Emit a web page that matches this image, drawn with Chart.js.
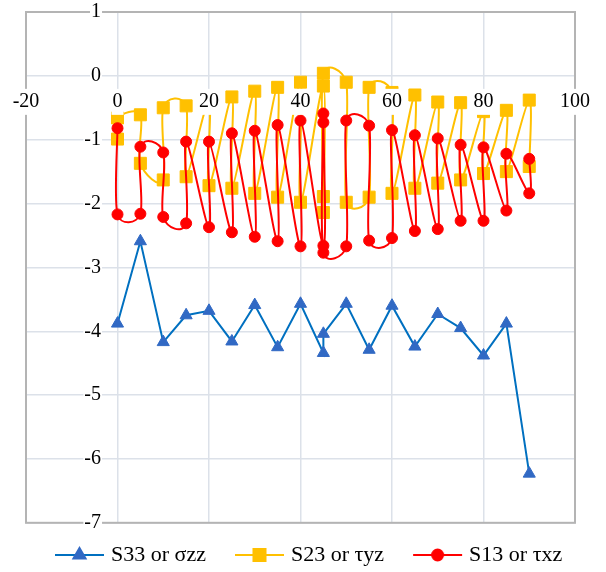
<!DOCTYPE html>
<html>
<head>
<meta charset="utf-8">
<script src="https://cdn.jsdelivr.net/npm/chart.js@4/dist/chart.umd.min.js"></script>
<style>
  html, body { margin: 0; padding: 0; background: #ffffff; }
  canvas { display: block; }
</style>
</head>
<body>
<canvas id="chart" width="606" height="572"></canvas>
<script>
// Stress components through the laminate (ply angle on x, stress on y)
const seriesNames = ['S33 or σzz', 'S23 or τyz', 'S13 or τxz'];

const xTickValues = [-20, 0, 20, 40, 60, 80, 100];
const yTickValues = [1, 0, -1, -2, -3, -4, -5, -6, -7];

// S33 / σzz
const s33X = [0, 5, 10, 15, 20, 25, 30, 35, 40, 45, 45, 50, 55, 60, 65, 70, 75, 80, 85, 90];
const s33Y = [-3.88, -2.59, -4.17, -3.75, -3.68, -4.16, -3.59, -4.25, -3.57, -4.34,
              -4.04, -3.57, -4.29, -3.60, -4.24, -3.73, -3.95, -4.38, -3.88, -6.23];

// S23 / τyz (two values per angle, traversed in path order)
const s23X = [0, 0, 5, 5, 10, 10, 15, 15, 20, 20, 25, 25, 30, 30, 35, 35, 40, 40, 45, 45,
              45, 45, 50, 50, 55, 55, 60, 60, 65, 65, 70, 70, 75, 75, 80, 80, 85, 85, 90, 90];
const s23Y = [-0.99, -0.66, -0.61, -1.37, -1.63, -0.50, -0.47, -1.58, -0.40, -1.72,
              -0.33, -1.76, -0.24, -1.84, -0.18, -1.90, -0.10, -1.98, -0.16, -2.14,
              -1.89, 0.04, -0.10, -1.98, -1.90, -0.18, -0.26, -1.84, -0.30, -1.76,
              -0.41, -1.68, -0.42, -1.63, -0.56, -1.53, -0.54, -1.50, -0.38, -1.42];

// S13 / τxz (two values per angle, traversed in path order)
const s13X = [0, 0, 5, 5, 10, 10, 15, 15, 20, 20, 25, 25, 30, 30, 35, 35, 40, 40, 45, 45,
              45, 45, 50, 50, 55, 55, 60, 60, 65, 65, 70, 70, 75, 75, 80, 80, 85, 85, 90, 90];
const s13Y = [-0.82, -2.17, -2.16, -1.11, -1.20, -2.21, -2.31, -1.03, -2.37, -1.03,
              -2.45, -0.90, -2.52, -0.86, -2.59, -0.77, -2.67, -0.70, -2.66, -0.73,
              -0.59, -2.77, -2.67, -0.70, -0.78, -2.58, -2.54, -0.85, -2.43, -0.93,
              -2.40, -0.98, -2.27, -1.08, -2.27, -1.12, -2.11, -1.22, -1.84, -1.30];

const toPoints = (xs, ys) => xs.map((x, i) => ({ x: x, y: ys[i] }));

const FONT = '"Liberation Serif", "Times New Roman", serif';

const styles = [
  { line: '#0070C0', fill: '#3169C4', shape: 'triangle', radius: 7, smooth: 0 },
  { line: '#FFC000', fill: '#FFC000', shape: 'rect', radius: 8.5, smooth: 1 / 6 },
  { line: '#FF0000', fill: '#FF0000', shape: 'circle', radius: 5.5, smooth: 1 / 6 }
];

// Legend swatch: short line with the series marker in the middle.
// The image is wider than the legend box so the line starts after a gap.
function makeSwatch(st) {
  const c = document.createElement('canvas');
  c.width = 78; c.height = 18;
  const g = c.getContext('2d');
  g.strokeStyle = st.line;
  g.lineWidth = 2;
  g.beginPath(); g.moveTo(28, 9); g.lineTo(77, 9); g.stroke();
  g.fillStyle = st.fill;
  g.strokeStyle = st.fill;
  Chart.helpers.drawPoint(g, { pointStyle: st.shape, radius: st.radius, rotation: 0, borderWidth: 1 }, 52.5, 9);
  return c;
}
const swatches = styles.map(makeSwatch);

// Gray frame around the plot area
const plotFrame = {
  id: 'plotFrame',
  beforeDatasetsDraw(chart) {
    const a = chart.chartArea;
    const ctx = chart.ctx;
    ctx.save();
    ctx.strokeStyle = '#B4B4B4';
    ctx.lineWidth = 2;
    ctx.strokeRect(a.left, a.top, a.right - a.left, a.bottom - a.top);
    ctx.restore();
  }
};

// Smoothed line: each handle follows the chord between the neighbouring
// points (1/6 of it), limited to half the length of its own segment.
const chordSmoothing = {
  id: 'chordSmoothing',
  beforeDatasetDraw(chart, args) {
    const k = chart.data.datasets[args.index].smoothing;
    if (!k) return;
    const line = args.meta.dataset;
    line.updateControlPoints(chart.chartArea, 'x');
    const pts = line.points;
    const dist = (a, b) => Math.hypot(b.x - a.x, b.y - a.y);
    for (let i = 0; i < pts.length; i++) {
      const p = pts[i];
      const prev = pts[i - 1] || p;
      const next = pts[i + 1] || p;
      const vx = (next.x - prev.x) * k;
      const vy = (next.y - prev.y) * k;
      const len = Math.hypot(vx, vy) || 1;
      const sIn = Math.min(1, (dist(prev, p) / 2) / len);
      const sOut = Math.min(1, (dist(p, next) / 2) / len);
      p.cp1x = p.x - vx * sIn; p.cp1y = p.y - vy * sIn;
      p.cp2x = p.x + vx * sOut; p.cp2y = p.y + vy * sOut;
    }
    line._path = undefined;
  }
};

const seriesX = [s33X, s23X, s13X];
const seriesY = [s33Y, s23Y, s13Y];

const datasets = seriesNames.map((name, i) => ({
  label: name,
  data: toPoints(seriesX[i], seriesY[i]),
  borderColor: styles[i].line,
  backgroundColor: styles[i].fill,
  borderWidth: 2,
  pointStyle: styles[i].shape,
  pointRadius: styles[i].radius,
  pointHoverRadius: styles[i].radius,
  pointBackgroundColor: styles[i].fill,
  pointBorderColor: styles[i].fill,
  pointBorderWidth: 1,
  tension: styles[i].smooth ? 0.3 : 0,
  smoothing: styles[i].smooth,
  fill: false,
  order: 2 - i
}));

const noAxisPadding = (scale) => {
  scale.paddingTop = 0; scale.paddingBottom = 0;
  scale.paddingLeft = 0; scale.paddingRight = 0;
};

new Chart(document.getElementById('chart'), {
  type: 'line',
  data: { datasets: datasets },
  plugins: [plotFrame, chordSmoothing],
  options: {
    responsive: false,
    animation: false,
    devicePixelRatio: 1,
    layout: { padding: { left: 26, right: 31, top: 12, bottom: -4 } },
    scales: {
      x: {
        type: 'linear',
        position: { y: 0 },
        min: xTickValues[0],
        max: xTickValues[xTickValues.length - 1],
        afterBuildTicks: (scale) => { scale.ticks = xTickValues.map(v => ({ value: v })); },
        afterFit: noAxisPadding,
        grid: { color: '#DCE1E9', lineWidth: 1.5, drawTicks: false },
        border: { display: false },
        ticks: {
          z: 1,
          padding: 14,
          color: '#000000',
          font: { family: FONT, size: 20 },
          showLabelBackdrop: true,
          backdropColor: '#ffffff',
          backdropPadding: 1,
          maxRotation: 0,
          autoSkip: false
        }
      },
      y: {
        type: 'linear',
        // labels sit just left of the x = 0 line
        position: { x: -3.6 },
        min: yTickValues[yTickValues.length - 1],
        max: yTickValues[0],
        afterBuildTicks: (scale) => { scale.ticks = yTickValues.slice().reverse().map(v => ({ value: v })); },
        afterFit: noAxisPadding,
        grid: { color: '#DCE1E9', lineWidth: 1.5, drawTicks: false },
        border: { display: false },
        ticks: {
          z: 1,
          color: '#000000',
          font: { family: FONT, size: 20 },
          showLabelBackdrop: true,
          backdropColor: '#ffffff',
          backdropPadding: 1,
          autoSkip: false
        }
      }
    },
    plugins: {
      tooltip: { enabled: false },
      legend: {
        position: 'bottom',
        align: 'start',
        // empty title only adds space above the legend row
        title: { display: true, text: '', font: { size: 1 }, padding: { top: 14, bottom: 0 } },
        labels: {
          usePointStyle: true,
          pointStyleWidth: 68,
          padding: 6,
          color: '#000000',
          font: { family: FONT, size: 22 },
          generateLabels(chart) {
            const items = Chart.defaults.plugins.legend.labels.generateLabels(chart);
            items.sort((a, b) => a.datasetIndex - b.datasetIndex);
            items.forEach(it => { it.pointStyle = swatches[it.datasetIndex]; });
            return items;
          }
        }
      }
    }
  }
});
</script>
</body>
</html>
